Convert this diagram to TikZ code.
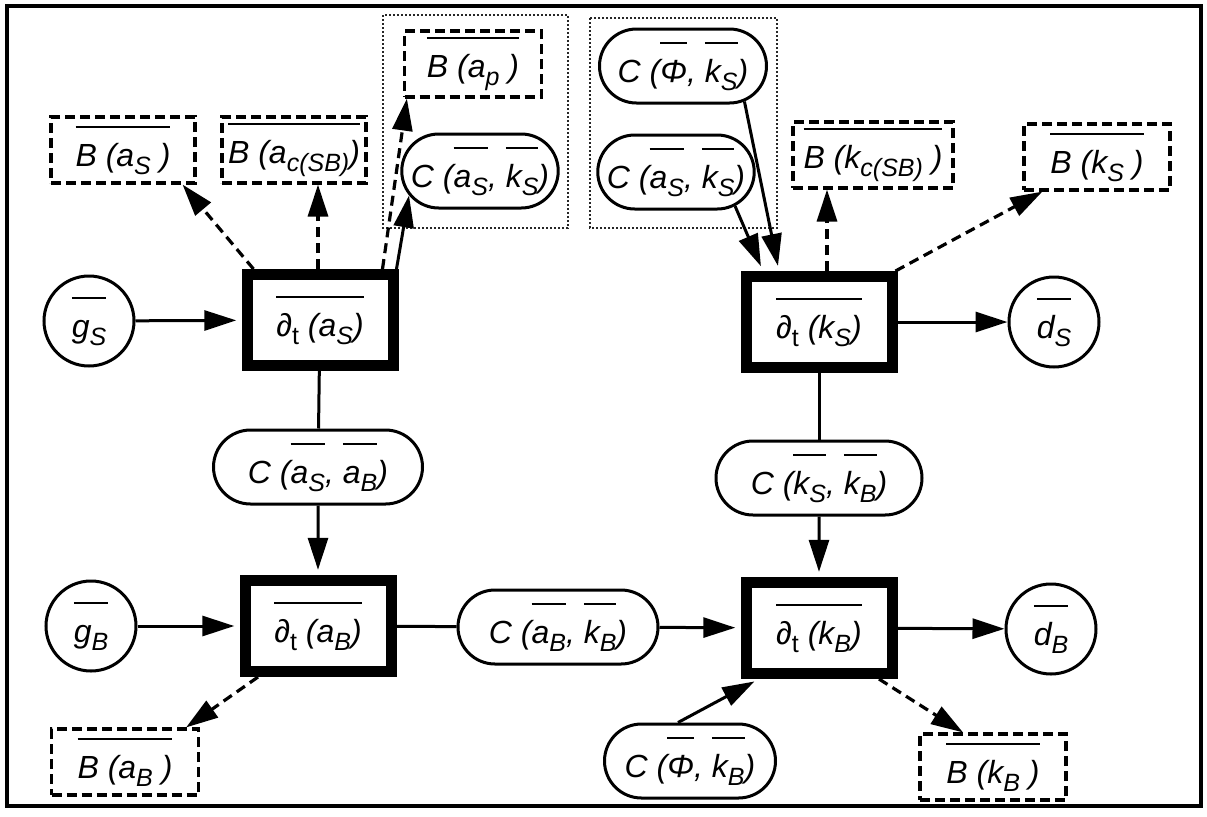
\documentclass[tikz,border=0pt]{standalone}
\usepackage{fontspec}
\setmainfont{Liberation Sans}
\usetikzlibrary{arrows.meta,shapes.misc}

% overline over a whole label, at a fixed height
\newcommand{\ovl}[1]{\leavevmode\vbox{\hrule height 1.1pt\kern 7.5pt\hbox{\vphantom{(}#1}}}
% lowered index
\newcommand{\subx}[1]{\raisebox{-4pt}{\fontsize{12.5}{14}\selectfont #1}}

\begin{document}
\begin{tikzpicture}[x=0.5pt,y=-0.5pt,>={Triangle[length=16pt,width=10pt]},
  every node/.style={font=\itshape\fontsize{16}{19}\selectfont},
  rate/.style={draw,line width=5.5pt,minimum width=73pt,minimum height=45.5pt,inner sep=0pt},
  bflux/.style={draw,dash pattern=on 5pt off 2.5pt,line width=1.6pt,minimum height=33pt,inner sep=0pt},
  coupl/.style={draw,rounded rectangle,line width=1.5pt,minimum height=37pt,inner sep=0pt},
  bound/.style={draw,circle,line width=1.5pt,minimum size=45pt,inner sep=0pt},
  flow/.style={->,line width=1.5pt},
  bflow/.style={->,line width=1.6pt,dash pattern=on 5pt off 3pt},
  ontorate/.style={shorten >=2.6pt}]
\useasboundingbox (0,0) rectangle (1207,816);
% frame and groups
\draw[line width=1.6pt] (7,6) rectangle (1201,806);
\draw[densely dotted,line width=1pt,black!85] (383,15) rectangle (568,228);
\draw[densely dotted,line width=1pt,black!85] (590,18) rectangle (777,228);
% storage a
\node[bound] (gS) at (89,321) {\ovl{g\subx{S}}};
\node[rate] (dtaS) at (320,320) {\ovl{∂\subx{\upshape t} (a\subx{S})}};
\node[bflux,minimum width=72pt] (BaS) at (123,150) {\ovl{B (a\subx{S} )}};
\node[bflux,minimum width=72pt] (BacSB) at (294,150) {\ovl{B (a\subx{c(SB)})}};
\node[bflux,minimum width=68.5pt] (Bap) at (473,64) {\ovl{B (a\subx{p} )}};
\node[coupl,minimum width=76pt] (CaSkS) at (480,171) {C (\ovl{a\subx{S}}, \ovl{k\subx{S}})};
\node[coupl,minimum width=83.5pt] (CPhkS) at (683,66) {C (\ovl{Φ}, \ovl{k\subx{S}})};
\node[coupl,minimum width=77pt] (CaSkSb) at (676,172) {C (\ovl{a\subx{S}}, \ovl{k\subx{S}})};
\node[coupl,minimum width=104.5pt] (CaSaB) at (318,467) {C (\ovl{a\subx{S}}, \ovl{a\subx{B}})};
\node[rate] (dtaB) at (318,626) {\ovl{∂\subx{\upshape t} (a\subx{B})}};
\node[bound] (gB) at (91,626) {\ovl{g\subx{B}}};
\node[bflux,minimum width=73.5pt] (BaB) at (125,762) {\ovl{B (a\subx{B} )}};
% storage k
\node[rate] (dtkS) at (819,322) {\ovl{∂\subx{\upshape t} (k\subx{S})}};
\node[bound] (dS) at (1054,322) {\ovl{d\subx{S}}};
\node[bflux,minimum width=80pt] (BkcSB) at (873,155) {\ovl{B (k\subx{c(SB)} )}};
\node[bflux,minimum width=73pt] (BkS) at (1097,157) {\ovl{B (k\subx{S} )}};
\node[coupl,minimum width=103pt] (CkSkB) at (819,478) {C (\ovl{k\subx{S}}, \ovl{k\subx{B}})};
\node[coupl,minimum width=100pt] (CaBkB) at (558,627) {C (\ovl{a\subx{B}}, \ovl{k\subx{B}})};
\node[rate] (dtkB) at (819,628) {\ovl{∂\subx{\upshape t} (k\subx{B})}};
\node[bound] (dB) at (1051,629) {\ovl{d\subx{B}}};
\node[coupl,minimum width=85.5pt] (CPhkB) at (690,761) {C (\ovl{Φ}, \ovl{k\subx{B}})};
\node[bflux,minimum width=73pt] (BkB) at (993,767) {\ovl{B (k\subx{B} )}};
% solid connectors
\draw[flow,ontorate] (gS) -- (dtaS);
\draw[flow,ontorate] (gB) -- (dtaB);
\draw[line width=1.5pt] (dtaS) -- (CaSaB);
\draw[flow,ontorate] (CaSaB) -- (dtaB);
\draw[line width=1.5pt] (dtaB) -- (CaBkB);
\draw[flow,ontorate] (CaBkB) -- (dtkB);
\draw[line width=1.5pt] (dtkS) -- (CkSkB);
\draw[flow,ontorate] (CkSkB) -- (dtkB);
\draw[flow] (dtkS) -- (dS);
\draw[flow] (dtkB) -- (dB);
\draw[flow] ([xshift=-1pt]dtaS.north east) -- (CaSkS.199);
\draw[flow,ontorate] (CaSkSb.-30) -- ([xshift=-28pt]dtkS.north);
\draw[flow,ontorate] (CPhkS.-30) -- ([xshift=-20pt]dtkS.north);
\draw[flow,ontorate] ([xshift=-6pt]CPhkB.north) -- ([xshift=-30pt]dtkB.south);
% dashed connectors
\draw[bflow] ([xshift=6pt]dtaS.north west) -- ([xshift=-7pt]BaS.south east);
\draw[bflow] ([xshift=-1pt]dtaS.north) -- ([xshift=-1pt]dtaS.north |- BacSB.south);
\draw[bflow] ([xshift=-8pt]dtaS.north east) -- ([xshift=2pt]Bap.south west);
\draw[bflow] ([xshift=4pt]dtkS.north) -- ([xshift=4pt]dtkS.north |- BkcSB.south);
\draw[bflow] ([xshift=-1pt]dtkS.north east) -- ([xshift=10pt]BkS.south west);
\draw[bflow] ([xshift=-30pt]dtaB.south) -- ([xshift=-7pt]BaB.north east);
\draw[bflow] ([xshift=30pt]dtkB.south) -- ([xshift=-15pt]BkB.north);
\end{tikzpicture}
\end{document}
